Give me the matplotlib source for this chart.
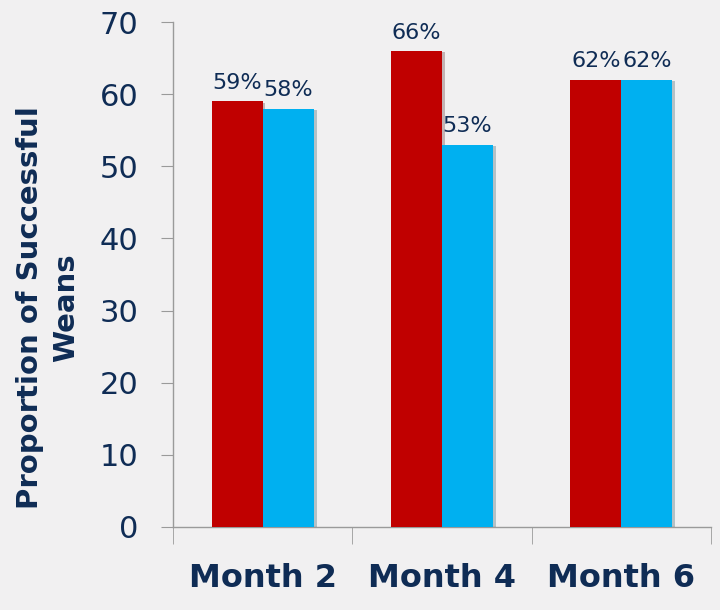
import matplotlib.pyplot as plt
import matplotlib.patheffects as pe
import numpy as np

# données
mois = ["Month 2", "Month 4", "Month 6"]
serie_rouge = [59, 66, 62]
serie_bleue = [58, 53, 62]
etiquettes_rouge = ["59%", "66%", "62%"]
etiquettes_bleue = ["58%", "53%", "62%"]

fond = "#F1F0F1"
marine = "#0F2C55"
gris = "#9A9A9A"

fig = plt.figure(figsize=(7.2, 6.1), dpi=100, facecolor=fond)
ax = fig.add_axes([173/720, 1 - 527/610, (711 - 173)/720, (527 - 22)/610])
ax.set_facecolor(fond)

x = np.arange(len(mois))
w = 0.285
ombre = [pe.SimplePatchShadow(offset=(2, -1), alpha=0.25), pe.Normal()]

b1 = ax.bar(x - w/2, serie_rouge, w, color="#C00000", path_effects=ombre, zorder=3)
b2 = ax.bar(x + w/2, serie_bleue, w, color="#00B0F0", path_effects=ombre, zorder=3)

for barres, etiq in [(b1, etiquettes_rouge), (b2, etiquettes_bleue)]:
    for b, t in zip(barres, etiq):
        ax.annotate(t, (b.get_x() + b.get_width()/2, b.get_height()),
                    xytext=(0, 6), textcoords="offset points",
                    ha="center", va="bottom", fontsize=16, color=marine)

ax.set_xlim(-0.5, 2.5)
ax.set_ylim(0, 70)
ax.set_yticks(range(0, 71, 10))
ax.set_xticks(x)
ax.set_xticklabels(mois, fontsize=23, fontweight="bold", color=marine)
ax.set_xticks([-0.5, 0.5, 1.5, 2.5], minor=True)
ax.tick_params(axis="x", which="major", length=0, pad=26)
ax.tick_params(axis="x", which="minor", length=12, color=gris, direction="out")
ax.tick_params(axis="y", length=9, color=gris, labelsize=22, labelcolor=marine, pad=16)

for s in ["top", "right"]:
    ax.spines[s].set_visible(False)
for s in ["left", "bottom"]:
    ax.spines[s].set_color(gris)
    ax.spines[s].set_linewidth(1)

ax.set_ylabel("Proportion of Successful\nWeans", fontsize=21, fontweight="bold",
              color=marine, linespacing=1.35)
ax.yaxis.set_label_coords(-0.173, 0.434)

fig.savefig("out.png", dpi=100, facecolor=fond)
